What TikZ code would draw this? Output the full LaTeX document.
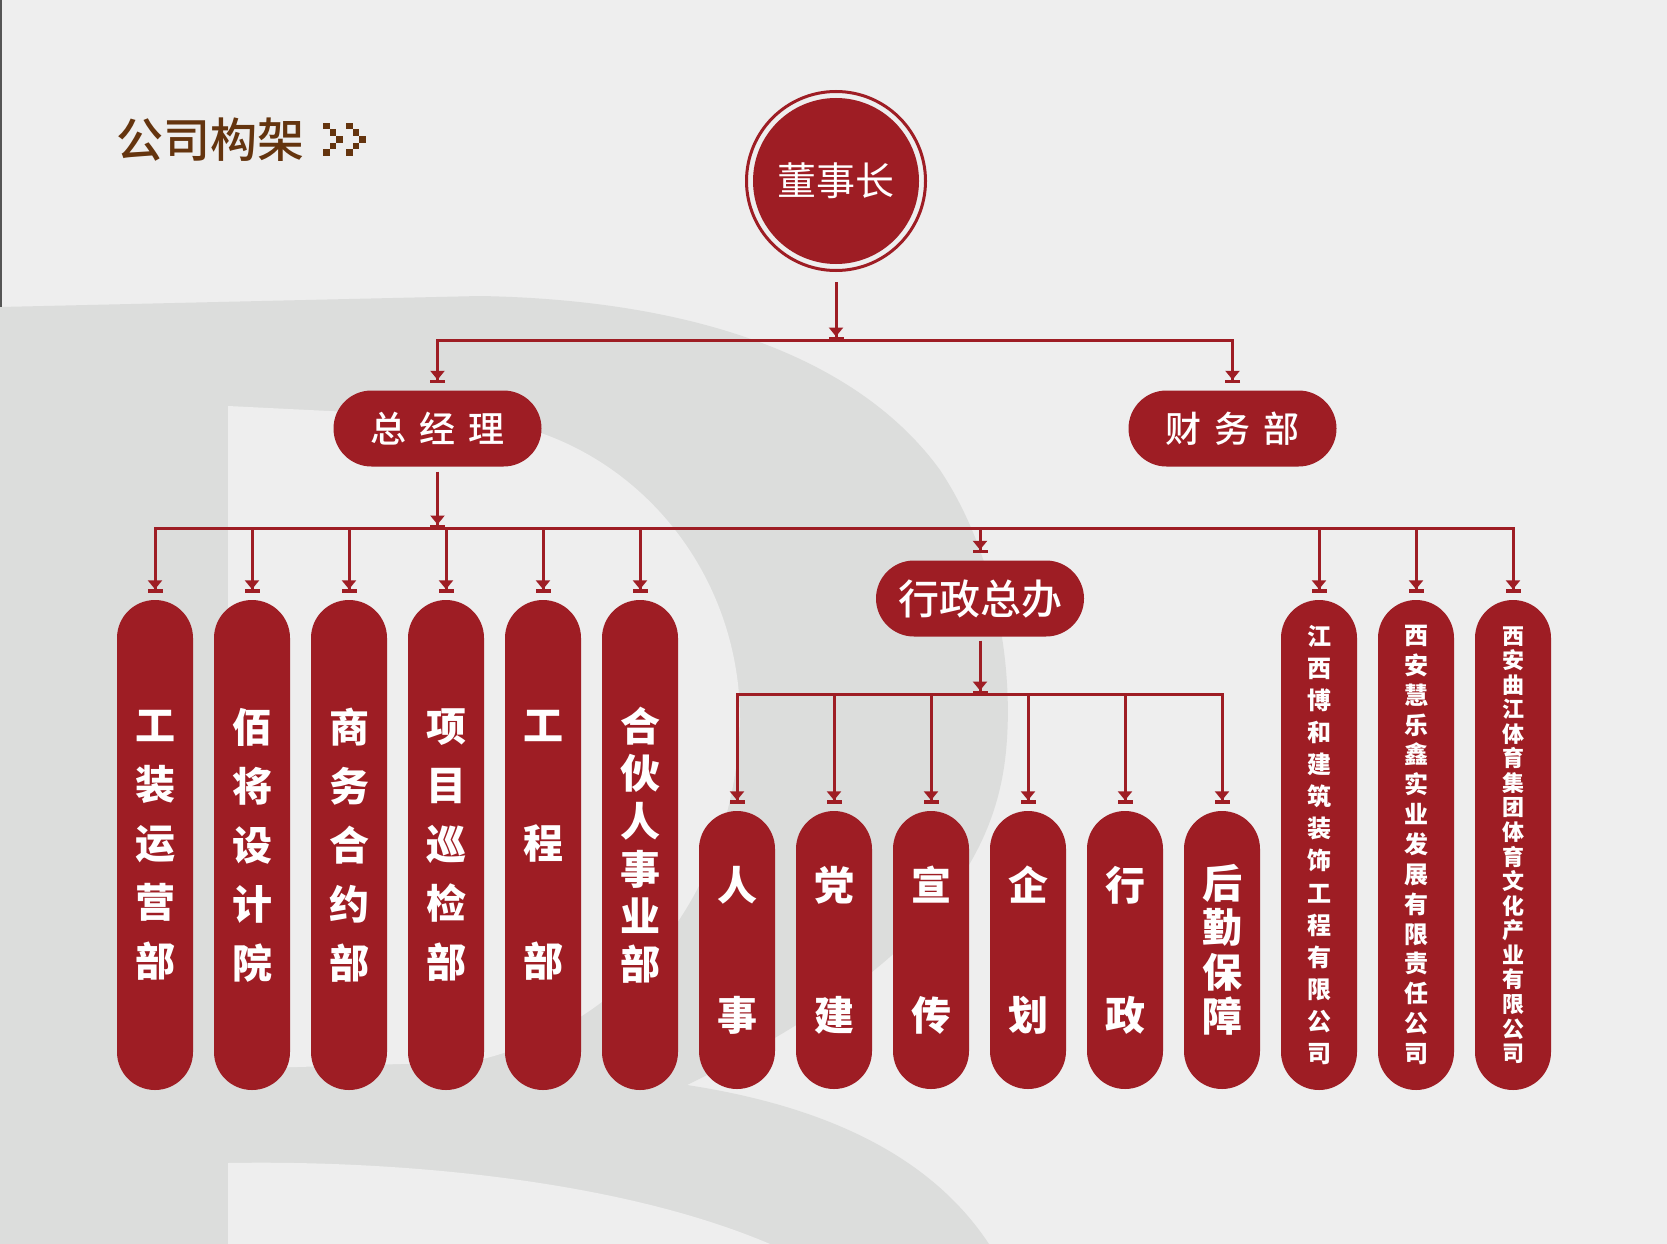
\documentclass[tikz,border=0pt]{standalone}
\usepackage{fontspec}
\newfontfamily\cjk{Noto Sans CJK SC}
\newfontfamily\cjkmed{Noto Sans CJK SC Medium}
\usetikzlibrary{arrows.meta}
\definecolor{bgcol}{RGB}{238,238,238}
\definecolor{bgshade}{RGB}{220,221,220}
\definecolor{lred}{RGB}{158,29,36}
\definecolor{titlebrown}{RGB}{100,52,14}
\definecolor{edgegray}{RGB}{85,85,85}
\begin{document}
\begin{tikzpicture}[x=1pt,y=-1pt,
  pill/.style={fill=lred, text=white, inner sep=0pt, align=center, font=\cjk\bfseries},
  vt/.style 2 args={font=\cjk\bfseries\fontsize{#1}{#2}\selectfont},
  ht/.style={font=\cjkmed\fontsize{#1}{#1}\selectfont},
  tall/.style={pill, minimum width=76pt, minimum height=490pt, rounded corners=38pt},
  short/.style={pill, minimum width=76pt, minimum height=278pt, rounded corners=38pt},
  hpill/.style={pill, minimum width=208pt, minimum height=76pt, rounded corners=38pt},
  arr/.style={draw=lred, line width=3pt,
    -{Triangle[length=9pt,width=14pt,sep=0pt]Bar[width=15pt,line width=3.5pt]}}]
\useasboundingbox (0,0) rectangle (1667,1244);
% background
\fill[bgcol] (0,0) rectangle (1667,1244);
\fill[bgshade] (0,307) -- (480,296) .. controls (700,300) and (860,360) .. (940,470)
  .. controls (1000,560) and (1015,680) .. (1005,760)
  .. controls (990,880) and (900,980) .. (687,1085)
  .. controls (850,1110) and (940,1170) .. (989,1244) -- (0,1244) -- cycle;
\fill[bgcol] (228,406) -- (470,418) .. controls (620,430) and (740,560) .. (740,720)
  .. controls (735,900) and (620,1030) .. (470,1062) -- (228,1069) -- cycle;
\fill[bgcol] (228,1244) -- (228,1163) .. controls (400,1160) and (620,1180) .. (770,1244) -- cycle;
\draw[edgegray, line width=2pt] (1,0) -- (1,307);
% title
\node[anchor=west, text=titlebrown, inner sep=0pt, ht=47] (title) at (116,140) {公司构架};
\foreach \dx in {0,23}{
  \foreach \px/\py in {323/123,329.5/129.5,336/136,329.5/142.5,323/149}
    \fill[titlebrown] (\px+\dx,\py) rectangle ++(6.5,6.5);
}
% chairman
\node[circle, fill=lred, text=white, minimum size=166pt, inner sep=0pt, font=\cjk\fontsize{39}{42}\selectfont] (chair) at (836,181) {董事长};
\draw[lred, line width=3pt] (chair.center) circle[radius=89.5pt];
% level 2
\node[hpill, ht=36] (gm) at (437.5,428.5) {总\hspace{13pt}经\hspace{13pt}理};
\node[hpill, ht=36] (fin) at (1232.5,428.5) {财\hspace{13pt}务\hspace{13pt}部};
% level 3
\node[tall, vt={40}{59}] (p1) at (155,845) {工\\装\\运\\营\\部};
\node[tall, vt={40}{59}] (p2) at (252,845) {佰\\将\\设\\计\\院};
\node[tall, vt={40}{59}] (p3) at (349,845) {商\\务\\合\\约\\部};
\node[tall, vt={40}{59}] (p4) at (446,845) {项\\目\\巡\\检\\部};
\node[tall, vt={40}{59}] (p5) at (543,845) {工\\~\\程\\~\\部};
\node[tall, vt={40}{47.6}] (p6) at (640,845) {合\\伙\\人\\事\\业\\部};
\node[hpill, ht=41] (admin) at (980,598.5) {行政总办};
\node[tall, vt={24}{32.1}] (r1) at (1319,845) {江\\西\\博\\和\\建\\筑\\装\\饰\\工\\程\\有\\限\\公\\司};
\node[tall, vt={24}{29.86}] (r2) at (1416,845) {西\\安\\慧\\乐\\鑫\\实\\业\\发\\展\\有\\限\\责\\任\\公\\司};
\node[tall, vt={22}{24.56}] (r3) at (1513,845) {西\\安\\曲\\江\\体\\育\\集\\团\\体\\育\\文\\化\\产\\业\\有\\限\\公\\司};
% level 4
\node[short, vt={40}{130}] (s1) at (737,950) {人\\事};
\node[short, vt={40}{130}] (s2) at (834,950) {党\\建};
\node[short, vt={40}{130}] (s3) at (931,950) {宣\\传};
\node[short, vt={40}{130}] (s4) at (1028,950) {企\\划};
\node[short, vt={40}{130}] (s5) at (1125,950) {行\\政};
\node[short, vt={40}{44.5}] (s6) at (1222,950) {后\\勤\\保\\障};
% connectors
\coordinate (b1) at (836,340);
\coordinate (b2) at (437.5,528);
\coordinate (b3) at (980,694);
\draw[arr] ([yshift=-18pt]chair.south) -- (b1);
\draw[arr] (b1) -| ([yshift=7pt]gm.north);
\draw[arr] (b1) -| ([yshift=7pt]fin.north);
\draw[arr] ([yshift=-5pt]gm.south) -- (b2);
\foreach \n in {p1,p2,p3,p4,p5,p6,admin,r1,r2,r3}
  \draw[arr] (b2) -| ([yshift=7pt]\n.north);
\draw[arr] ([yshift=-4pt]admin.south) -- (b3);
\foreach \n in {s1,s2,s3,s4,s5,s6}
  \draw[arr] (b3) -| ([yshift=7pt]\n.north);
\end{tikzpicture}
\end{document}
